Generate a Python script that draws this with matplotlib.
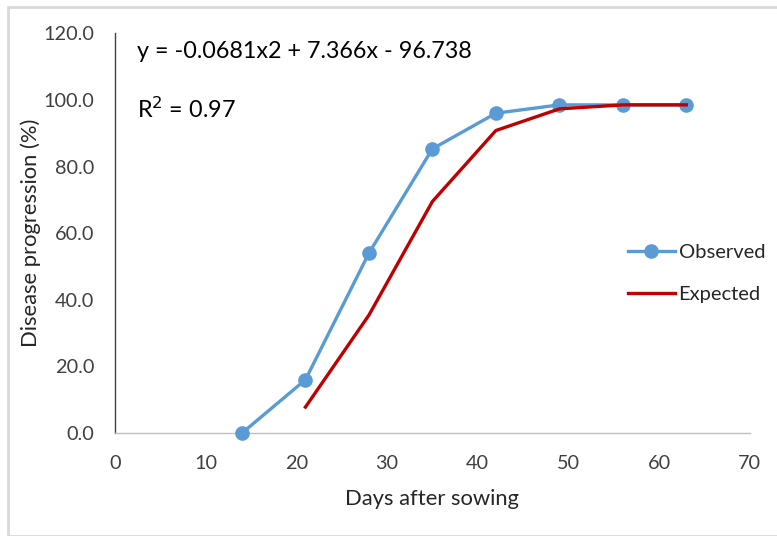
import matplotlib.pyplot as plt
from matplotlib.patches import Rectangle

plt.rcParams['font.family'] = ['Lato', 'DejaVu Sans']

# disease progression over time
days_obs = [14, 21, 28, 35, 42, 49, 56, 63]
observed = [0.0, 16.0, 54.0, 85.3, 96.0, 98.5, 98.5, 98.5]
days_exp = [21, 28, 35, 42, 49, 56, 63]
expected = [7.8, 35.4, 69.5, 90.8, 97.3, 98.5, 98.5]

blue = '#5B9BD5'
red = '#C00000'

fig = plt.figure(figsize=(7.77, 5.36), dpi=100)
ax = fig.add_axes([0.148, 0.192, 0.817, 0.746])

# light frame around the chart area
fig.patches.append(Rectangle((8 / 777, 0), 1, 1 - 7 / 536, transform=fig.transFigure,
                             fill=False, edgecolor='#d9d9d9', linewidth=2))

ax.plot(days_obs, observed, color=blue, lw=2.4, marker='o', ms=9.5,
        label='Observed', clip_on=False, zorder=3)
ax.plot(days_exp, expected, color=red, lw=2.4, label='Expected', zorder=4)

ax.set_xlim(0, 70)
ax.set_ylim(0, 120)
ax.set_xticks(range(0, 71, 10))
ax.set_yticks(range(0, 121, 20))
ax.set_yticklabels([f'{v:.1f}' for v in range(0, 121, 20)])
ax.tick_params(length=0, labelsize=14.3, colors='#404040')
ax.tick_params(axis='y', pad=15)
ax.tick_params(axis='x', pad=16)

for s in ['top', 'right']:
    ax.spines[s].set_visible(False)
ax.spines['left'].set_color('#404040')
ax.spines['bottom'].set_color('#bfbfbf')
ax.spines['left'].set_linewidth(1.0)
ax.spines['bottom'].set_linewidth(1.0)

ax.set_xlabel('Days after sowing', fontsize=15.8, color='#262626', labelpad=12)
ax.set_ylabel('Disease progression (%)', fontsize=15.8, color='#262626', labelpad=2)

ax.text(0.035, 0.955, 'y = -0.0681x2 + 7.366x - 96.738', transform=ax.transAxes,
        fontsize=16.8, color='black', va='center')
ax.text(0.035, 0.81, r'R$^2$ = 0.97', transform=ax.transAxes,
        fontsize=16.8, color='black', va='center')

leg = ax.legend(loc='center left', bbox_to_anchor=(0.78, 0.40), frameon=False,
                fontsize=14.5, handlelength=2.3, labelspacing=1.25, handletextpad=0.2)
for t in leg.get_texts():
    t.set_color('#262626')

fig.savefig('out.png', dpi=100)
